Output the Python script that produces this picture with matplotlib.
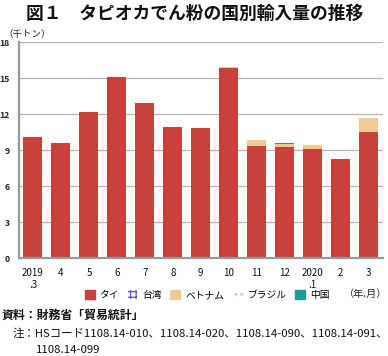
import matplotlib
matplotlib.use("Agg")
import matplotlib.pyplot as plt
import numpy as np
from matplotlib.patches import Patch

plt.rcParams['font.family'] = ['Noto Sans CJK JP', 'DejaVu Sans']
plt.rcParams['hatch.linewidth'] = 0.9

months = ["2019\n.3", "4", "5", "6", "7", "8", "9", "10", "11", "12", "2020\n.1", "2", "3"]
thai = [10.13, 9.58, 12.22, 15.13, 12.92, 10.97, 10.88, 15.85, 9.38, 9.30, 9.10, 8.25, 10.55]
taiwan = [0, 0, 0, 0, 0, 0, 0, 0, 0, 0, 0, 0, 0]
vietnam = [0, 0, 0, 0, 0, 0, 0, 0.10, 0.48, 0.25, 0.37, 0, 1.12]
brazil = [0, 0, 0, 0, 0, 0, 0, 0, 0, 0, 0, 0, 0]
china = [0, 0, 0, 0, 0, 0, 0, 0, 0, 0.08, 0, 0, 0]
series_names = ["タイ", "台湾", "ベトナム", "ブラジル", "中国"]
yticks = [0, 3, 6, 9, 12, 15, 18]

c_red = "#c9413b"
c_tw = "#5a5ad2"
c_vn = "#efcb92"
c_br = "#8fc0e0"
c_cn = "#1f9c98"

fig = plt.figure(figsize=(3.88, 3.56), dpi=100)
ax = fig.add_axes([19/388, 1-258.3/356, (382.5-19)/388, (258.3-42.3)/356])

x = np.arange(len(months))
w = 0.68
bottom = np.zeros(len(months))
ax.bar(x, thai, w, bottom=bottom, color=c_red, zorder=3)
bottom += np.array(thai)
ax.bar(x, taiwan, w, bottom=bottom, facecolor="white", edgecolor=c_tw, hatch="++", linewidth=0, zorder=3)
bottom += np.array(taiwan)
ax.bar(x, vietnam, w, bottom=bottom, color=c_vn, zorder=3)
bottom += np.array(vietnam)
ax.bar(x, brazil, w, bottom=bottom, facecolor="white", edgecolor=c_br, hatch="..", linewidth=0, zorder=3)
bottom += np.array(brazil)
ax.bar(x, china, w, bottom=bottom, color=c_cn, zorder=3)

ax.set_xlim(-0.5, len(months) - 0.5)
ax.set_ylim(0, 18)
ax.set_yticks(yticks)
ax.set_yticklabels([str(v) for v in yticks], fontsize=6.3, fontweight="bold", color="#222222")
ax.set_xticks(x)
ax.set_xticklabels(months, fontsize=7, color="#111111", linespacing=1.3, va="top")
ax.tick_params(axis="both", length=0)
ax.tick_params(axis="y", pad=6.5)
ax.tick_params(axis="x", pad=7)
ax.grid(axis="y", color="#b5b5b5", linewidth=0.9, zorder=0)
for s in ["top", "right"]:
    ax.spines[s].set_visible(False)
for s in ["left", "bottom"]:
    ax.spines[s].set_color("#999999")
    ax.spines[s].set_linewidth(1.6)
    ax.spines[s].set_zorder(4)

fig.text(195/388, 1-14/356, "図１　タピオカでん粉の国別輸入量の推移", ha="center", va="center",
         fontsize=12.8, fontweight="bold", color="#111111")
fig.text(3/388, 1-34/356, "（千トン）", ha="left", va="center", fontsize=6.8, color="#222222")

handles = [
    Patch(facecolor=c_red, edgecolor=c_red),
    Patch(facecolor="white", edgecolor=c_tw, hatch="+++", linewidth=0),
    Patch(facecolor=c_vn, edgecolor=c_vn),
    Patch(facecolor="white", edgecolor=c_br, hatch="...", linewidth=0),
    Patch(facecolor=c_cn, edgecolor=c_cn),
]
fig.legend(handles, series_names, loc="center", bbox_to_anchor=(207/388, 1-295/356), ncol=5,
           frameon=False, fontsize=7, handlelength=1.0, handleheight=1.0, handletextpad=0.5,
           columnspacing=0.9, borderaxespad=0)
fig.text(387/388, 1-294/356, "（年.月）", ha="right", va="center", fontsize=7.3, color="#222222")

fig.text(2/388, 1-315/356, "資料：財務省「貿易統計」", ha="left", va="center", fontsize=8.6,
         fontweight="bold", color="#111111")
fig.text(13/388, 1-333/356, "注：HSコード1108.14-010、1108.14-020、1108.14-090、1108.14-091、",
         ha="left", va="center", fontsize=8.2, color="#111111")
fig.text(36/388, 1-350/356, "1108.14-099", ha="left", va="center", fontsize=8.2, color="#111111")

fig.savefig("out.png", dpi=100)
